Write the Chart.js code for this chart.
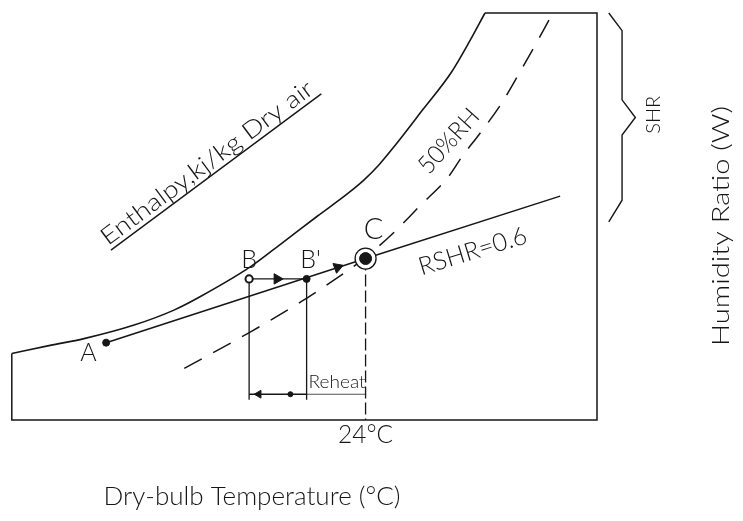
<!DOCTYPE html>
<html><head><meta charset="utf-8">
<script src="https://cdn.jsdelivr.net/npm/chart.js@4.4.1/dist/chart.umd.min.js"></script>
<style>html,body{margin:0;padding:0;background:#fff;}#wrap{width:743px;height:521px;}</style>
</head><body><div id="wrap"><canvas id="c" width="743" height="521"></canvas></div>
<script>
// ---- data: dry-bulb temperature (°C) on x, humidity ratio (g/kg) on y ----
const xRange = [0, 39.7];
const yRange = [0, 30];
const tickValues = [24];
const tickLabels = ['24°C'];

const saturationT = [0, 2.6, 4.9, 8.3, 11.0, 12.8, 16.2, 18.4, 20.7, 22.8, 23.9, 24.9, 25.9, 27.9, 29.8, 31.1, 32.1];
const saturationW = [4.9, 5.5, 6.0, 7.0, 8.1, 9.1, 11.3, 13.1, 15.0, 16.7, 17.7, 18.8, 20.1, 22.9, 25.6, 28.0, 30.0];

const rh50T = [11.7, 16.2, 19.6, 22.5, 23.9, 25.9, 27.7, 29.6, 30.6, 31.6, 33.2, 34.5, 35.7, 36.7];
const rh50W = [3.8, 6.5, 8.7, 10.8, 11.9, 13.8, 15.8, 17.9, 19.5, 20.9, 23.3, 25.7, 28.0, 30.0];

const frameT = [0, 0, 39.7, 39.7, 32.1];
const frameW = [4.9, 0, 0, 30, 30];

const rshrT = [6.4, 24.0, 37.2];
const rshrW = [5.7, 11.9, 16.5];

const stateNames = ['A', 'B', "B'", 'C'];
const stateT = [6.4, 16.1, 20.0, 24.0];
const stateW = [5.7, 10.4, 10.4, 11.9];

const reheatLevelW = 1.9;
const dropLineEndW = 1.5;

const processArrowT = [18.0, 22.1];
const processArrowW = [10.4, 11.25];

const shrBracketT = [40.5, 41.4, 41.4, 42.3, 41.4, 41.4, 40.5];
const shrBracketW = [30.0, 28.7, 23.6, 22.3, 21.0, 16.2, 14.6];

// ---- layout of annotation text (position in data units) ----
const labels = [
  {text: 'Enthalpy,kj/kg Dry air', t: 13.2, w: 19.0, angle: -36.6, size: 24, width: 258, underline: true},
  {text: '50%RH', t: 29.6, w: 20.6, angle: -48, size: 25, width: 78},
  {text: 'A', t: 5.2, w: 5.0, angle: 0, size: 25},
  {text: 'B', t: 16.1, w: 11.9, angle: 0, size: 25},
  {text: "B'", t: 20.27, w: 11.9, angle: 0, size: 25},
  {text: 'C', t: 24.54, w: 14.1, angle: 0, size: 29},
  {text: 'RSHR=0.6', t: 31.25, w: 12.5, angle: -17, size: 25, width: 112},
  {text: 'Reheat', t: 22.07, w: 2.84, angle: 0, size: 17, width: 57},
  {text: 'Dry-bulb Temperature (°C)', t: 16.3, w: -5.6, angle: 0, size: 25, width: 297},
  {text: 'SHR', t: 43.46, w: 22.5, angle: -90, size: 20, width: 38},
  {text: 'Humidity Ratio (W)', t: 48.1, w: 14.3, angle: -90, size: 24, width: 240}
];

const ink = '#161616';
const FONT = "Lato, 'Open Sans', 'DejaVu Sans', sans-serif";
const pts = (T, W) => T.map((t, i) => ({x: t, y: W[i]}));

const textPlugin = {
  id: 'texts',
  afterDatasetsDraw(chart) {
    const {ctx, scales: {x, y}} = chart;
    const all = labels.concat(tickValues.map((v, i) => ({text: tickLabels[i], t: v, w: -1.0, angle: 0, size: 25, width: 55})));
    all.forEach(l => {
      const px = x.getPixelForValue(l.t), py = y.getPixelForValue(l.w);
      ctx.save();
      ctx.translate(px, py);
      ctx.rotate(l.angle * Math.PI / 180);
      ctx.font = `300 ${l.size}px ${FONT}`;
      const m = ctx.measureText(l.text).width;
      const sx = l.width ? l.width / m : 1;
      const base = l.size * 0.36;
      ctx.fillStyle = ink;
      ctx.textAlign = 'center';
      ctx.textBaseline = 'alphabetic';
      ctx.save();
      ctx.scale(sx, 1);
      ctx.fillText(l.text, 0, base);
      ctx.restore();
      if (l.underline) {
        ctx.beginPath();
        ctx.moveTo(-l.width / 2, base + 5);
        ctx.lineTo(l.width / 2 + 4, base + 5);
        ctx.lineWidth = 1.4;
        ctx.strokeStyle = ink;
        ctx.stroke();
      }
      ctx.restore();
    });
  }
};

const line = (data, extra) => Object.assign({
  data, showLine: true, borderColor: ink, borderWidth: 1.5, pointRadius: 0, fill: false, clip: false, order: 5, tension: 0
}, extra || {});

const iB = 1, iBp = 2, iC = 3;
const datasets = [
  line(pts(frameT, frameW), {borderWidth: 1.5}),
  line(pts(saturationT, saturationW), {cubicInterpolationMode: 'monotone', borderWidth: 1.6}),
  line(pts(rh50T, rh50W), {cubicInterpolationMode: 'monotone', borderDash: [20, 13], borderWidth: 1.5}),
  line(pts(rshrT, rshrW), {borderWidth: 1.5}),
  line(pts([stateT[iB], stateT[iBp]], [stateW[iB], stateW[iBp]]), {borderWidth: 1.3}),
  line(pts([stateT[iB], stateT[iB]], [stateW[iB], dropLineEndW]), {borderWidth: 1.3}),
  line(pts([stateT[iBp], stateT[iBp]], [stateW[iBp], dropLineEndW]), {borderWidth: 1.3}),
  line(pts([stateT[iC], stateT[iC]], [stateW[iC], 0]), {borderWidth: 1.3, borderDash: [12, 4]}),
  line(pts([stateT[iB], stateT[iBp]], [reheatLevelW, reheatLevelW]), {borderWidth: 1.5}),
  line(pts([stateT[iBp], stateT[iC]], [reheatLevelW, reheatLevelW]), {borderWidth: 1.1, borderColor: '#555'}),
  line(pts(shrBracketT, shrBracketW), {borderWidth: 1.4}),
  // arrow heads on process lines
  {data: pts(processArrowT, processArrowW), showLine: false, pointStyle: 'triangle', pointRadius: 6,
   pointRotation: [90, 70], pointBackgroundColor: ink, pointBorderColor: ink, pointBorderWidth: 1, clip: false, order: 2},
  // reheat dimension marks
  {data: pts([stateT[iB] + 0.65], [reheatLevelW]), showLine: false, pointStyle: 'triangle', pointRadius: 4.5,
   pointRotation: 270, pointBackgroundColor: ink, pointBorderColor: ink, clip: false, order: 2},
  {data: pts([18.9], [reheatLevelW]), showLine: false, pointStyle: 'circle', pointRadius: 2.5,
   pointBackgroundColor: ink, pointBorderColor: ink, clip: false, order: 2},
  // ring around C
  {data: pts([stateT[iC]], [stateW[iC]]), showLine: false, pointStyle: 'circle', pointRadius: 10.5,
   pointBackgroundColor: '#fff', pointBorderColor: ink, pointBorderWidth: 1.3, clip: false, order: 1},
  // state points A, B, B', C
  {data: pts(stateT, stateW), showLine: false, pointStyle: 'circle',
   pointRadius: [3.5, 3.6, 3.5, 6], pointBorderWidth: [1, 2, 1, 1],
   pointBackgroundColor: [ink, '#fff', ink, ink], pointBorderColor: ink, clip: false, order: 0}
];

new Chart(document.getElementById('c'), {
  type: 'scatter',
  data: {datasets},
  options: {
    responsive: false, animation: false, events: [],
    layout: {padding: {left: 11, right: 146, top: 13, bottom: 101}},
    scales: {
      x: {type: 'linear', min: xRange[0], max: xRange[1], display: false},
      y: {type: 'linear', min: yRange[0], max: yRange[1], display: false}
    },
    plugins: {legend: {display: false}, tooltip: {enabled: false}}
  },
  plugins: [textPlugin]
});
</script>
</body></html>
